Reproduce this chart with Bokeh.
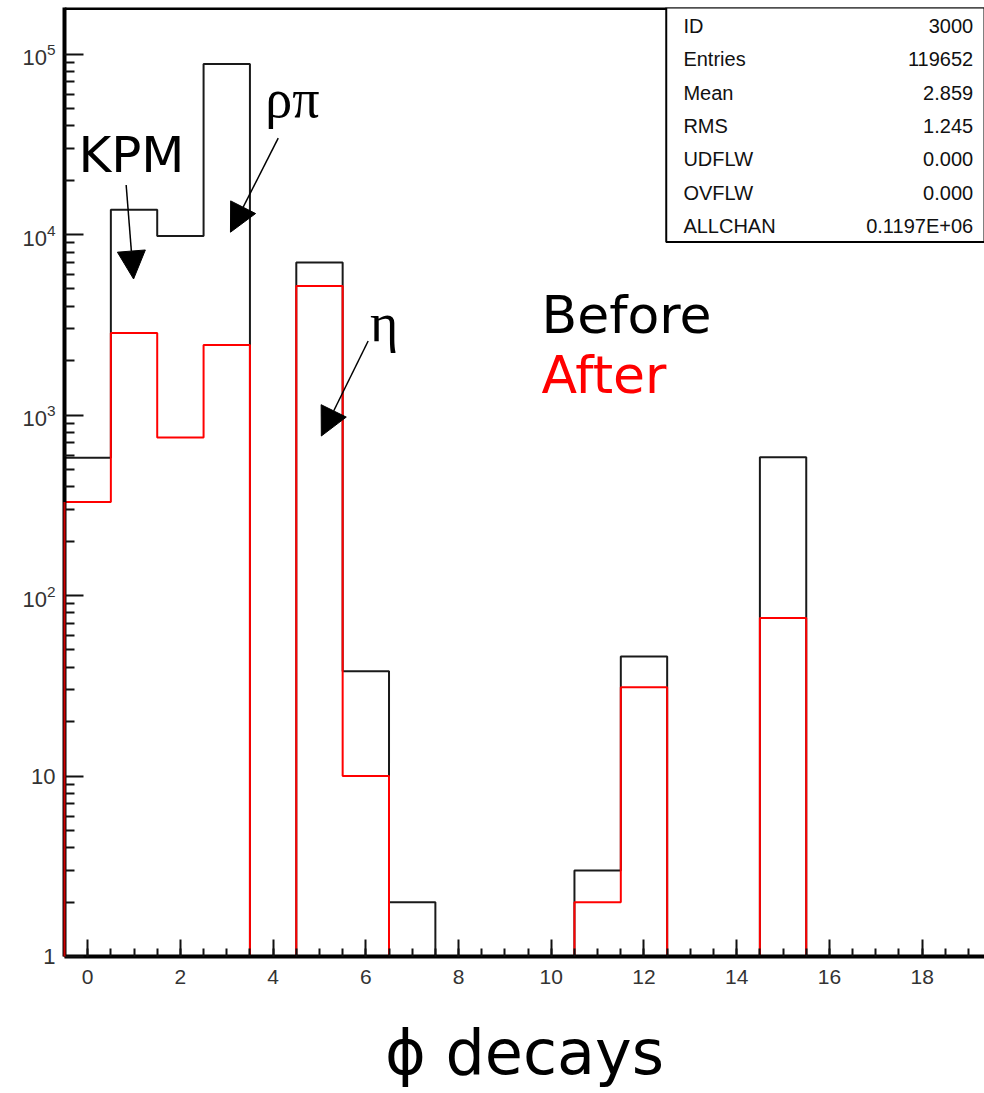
import numpy as np
from bokeh.plotting import figure
from bokeh.models import (Range1d, FixedTicker, Label, Arrow, NormalHead,
                          Span, BoxAnnotation, LogTickFormatter)
from bokeh.embed import file_html
from bokeh.resources import INLINE

# ---- histogram contents (one bin per decay channel, width 1) ----
bin_centers = list(range(20))
before_counts = [580, 13700, 9800, 87900, 0, 7000, 38, 2, 0, 0,
                 0, 3, 46, 0, 0, 583, 0, 0, 0, 0]
after_counts = [330, 2850, 750, 2440, 0, 5190, 10, 0, 0, 0,
                0, 2, 31, 0, 0, 75, 0, 0, 0, 0]

# ---- statistics box ----
stat_names = ["ID", "Entries", "Mean", "RMS", "UDFLW", "OVFLW", "ALLCHAN"]
stat_values = ["3000", "119652", "2.859", "1.245", "0.000", "0.000", "0.1197E+06"]

# ---- axis ticks ----
x_major_ticks = list(range(0, 20, 2))
x_minor_ticks = [v / 2 for v in range(-1, 40)]
y_major_ticks = [1, 10, 100, 1000, 10000, 100000]
y_plain_labels = {1: "1", 10: "10"}

X_LO, X_HI = -0.5, 19.345
Y_LO, Y_HI = 1.0, 1.81e5


def outline(counts, floor=1.0):
    """Step outline of a histogram; empty bins sit on the floor."""
    xs, ys = [], []
    for c, n in zip(bin_centers, counts):
        v = n if n > 0 else floor
        xs += [c - 0.5, c + 0.5]
        ys += [v, v]
    return [xs[0]] + xs + [xs[-1]], [floor] + ys + [floor]


p = figure(width=984, height=1093, y_axis_type="log",
           x_range=Range1d(X_LO, X_HI), y_range=Range1d(Y_LO, Y_HI),
           output_backend="svg", toolbar_location=None,
           min_border_left=64, min_border_right=0,
           min_border_top=7, min_border_bottom=137)
p.outline_line_color = None
p.background_fill_color = "white"
p.border_fill_color = "white"
p.grid.visible = False

bx, by = outline(before_counts)
ax, ay = outline(after_counts)
p.line(bx, by, line_color="#1a1a1a", line_width=2)
p.line(ax, ay, line_color="#ff0000", line_width=2)
# the rising edge of the first "after" bin is drawn over the left axis
p.line(ax[:2], ay[:2], line_color="#cc0000", line_width=2, level="overlay")

# ---- x axis ----
xa = p.xaxis[0]
xa.ticker = FixedTicker(ticks=x_major_ticks, minor_ticks=x_minor_ticks)
xa.axis_line_width = 4
xa.axis_line_color = "black"
xa.major_tick_in = 17
xa.major_tick_out = 0
xa.minor_tick_in = 8
xa.minor_tick_out = 0
xa.major_tick_line_width = 2
xa.minor_tick_line_width = 2
xa.major_tick_line_color = "#111"
xa.minor_tick_line_color = "#111"
xa.major_label_standoff = 13
xa.major_label_text_font = "Liberation Sans"
xa.major_label_text_font_size = "21px"
xa.major_label_text_color = "#333"
xa.axis_label = "ϕ decays"
xa.axis_label_text_font = "DejaVu Sans"
xa.axis_label_text_font_size = "62px"
xa.axis_label_text_font_style = "normal"
xa.axis_label_text_color = "black"
xa.axis_label_standoff = 29

# ---- y axis ----
ya = p.yaxis[0]
y_minor = [m * 10 ** d for d in range(0, 6) for m in range(2, 10)]
ya.ticker = FixedTicker(ticks=y_major_ticks, minor_ticks=y_minor)
ya.formatter = LogTickFormatter(min_exponent=1)
ya.major_label_overrides = y_plain_labels
ya.axis_line_width = 4
ya.axis_line_color = "black"
ya.major_tick_in = 19
ya.major_tick_out = 0
ya.minor_tick_in = 10
ya.minor_tick_out = 0
ya.major_tick_line_width = 2
ya.minor_tick_line_width = 2
ya.major_tick_line_color = "#111"
ya.minor_tick_line_color = "#111"
ya.major_label_standoff = 9
ya.major_label_text_font = "Liberation Sans"
ya.major_label_text_font_size = "22px"
ya.major_label_text_color = "#333"

# top frame edge
p.add_layout(Span(location=Y_HI, dimension="width", line_color="black",
                  line_width=5))

# ---- statistics box ----
p.add_layout(BoxAnnotation(left=12.48, bottom=9100, fill_color="white",
                           fill_alpha=1.0, line_color="black", line_width=2,
                           line_alpha=1.0))
row_log_top, row_step = 5.155, 0.1846
for i, (name, val) in enumerate(zip(stat_names, stat_values)):
    yrow = 10 ** (row_log_top - i * row_step)
    p.add_layout(Label(x=12.85, y=yrow, text=name, text_align="left",
                       text_baseline="middle", text_font="Liberation Sans",
                       text_font_size="20px", text_color="#111"))
    p.add_layout(Label(x=19.1, y=yrow, text=val, text_align="right",
                       text_baseline="middle", text_font="Liberation Sans",
                       text_font_size="20px", text_color="#111"))

# ---- channel annotations ----
def note(x, y, text, font, size, lift, color="black"):
    p.add_layout(Label(x=x, y=y, text=text, text_align="left",
                       text_baseline="alphabetic", text_font=font,
                       text_font_size=size, text_color=color, y_offset=lift))


note(-0.2, 21600, "KPM", "DejaVu Sans", "50px", 19)
note(3.83, 47100, "ρπ", "Liberation Serif", "54px", 14)
note(6.09, 2810, "η", "Liberation Serif", "54px", 11)
note(9.79, 2845, "Before", "DejaVu Sans", "52px", 18)
note(9.79, 1324, "After", "DejaVu Sans", "52px", 18, "#ff0000")

for xs_, ys_, xe_, ye_ in [(0.83, 18800, 0.99, 5670),
                           (4.11, 34200, 3.08, 10300),
                           (6.05, 2570, 5.04, 765)]:
    p.add_layout(Arrow(end=NormalHead(size=28, fill_color="black",
                                      line_color="black", line_width=1),
                       x_start=xs_, y_start=ys_, x_end=xe_, y_end=ye_,
                       line_color="black", line_width=1.5))

open("out.html", "w").write(file_html(p, INLINE))
